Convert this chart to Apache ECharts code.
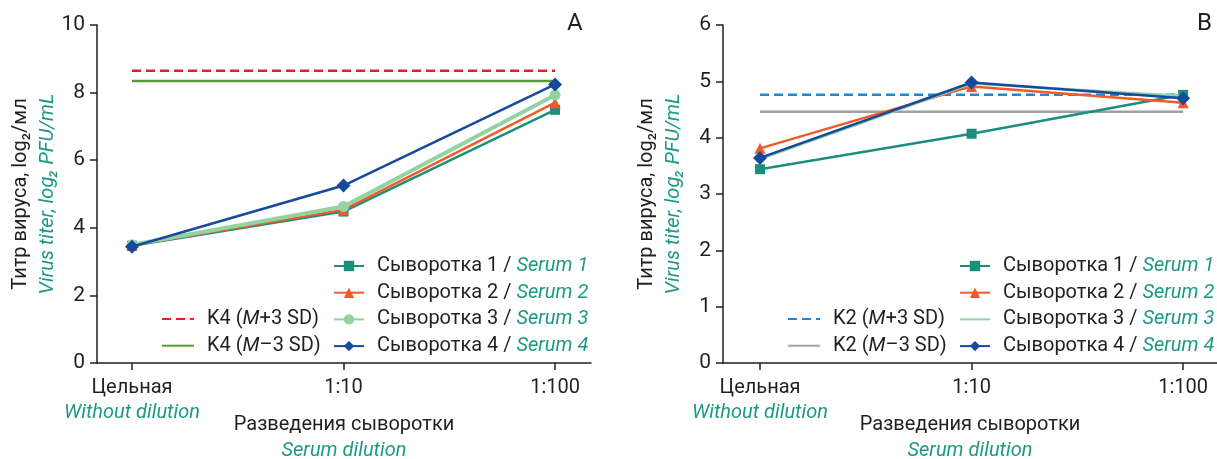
<!DOCTYPE html>
<html>
<head>
<meta charset="utf-8">
<script src="https://cdn.jsdelivr.net/npm/echarts@6/dist/echarts.min.js"></script>
<style>html,body{margin:0;padding:0;background:#fff}#c{width:1217px;height:459px}</style>
</head>
<body>
<div id="c"></div>
<script>
// ---- data ----
const categories = ['Цельная', '1:10', '1:100'];
const categoriesEn = ['Without dilution', '', ''];
const serumNames = ['Сыворотка 1', 'Сыворотка 2', 'Сыворотка 3', 'Сыворотка 4'];
const serumNamesEn = ['Serum 1', 'Serum 2', 'Serum 3', 'Serum 4'];
// Panel A
const s1A = [3.47, 4.48, 7.49];
const s2A = [3.48, 4.53, 7.70];
const s3A = [3.50, 4.63, 7.93];
const s4A = [3.44, 5.25, 8.24];
const k4Upper = 8.65;
const k4Lower = 8.34;
// Panel B
const s1B = [3.44, 4.07, 4.76];
const s2B = [3.81, 4.91, 4.62];
const s3B = [3.62, 4.96, 4.74];
const s4B = [3.64, 4.98, 4.70];
const k2Upper = 4.76;
const k2Lower = 4.46;
const yTicksA = {min: 0, max: 10, interval: 2};
const yTicksB = {min: 0, max: 6, interval: 1};

// ---- styles ----
const FONT = 'Roboto';
const FS = 20;
const DARK = '#231f20';
const TEAL = '#1d9a82';
const C1 = '#1b8f7b', C2 = '#f15a29', C3 = '#93d3a2', C4 = '#174a9c';
const CLEAR = 'rgba(0,0,0,0)';

const chart = echarts.init(document.getElementById('c'));

function toPts(arr) { return arr.map((v, i) => [i, v]); }
function hline(v) { return [[0, v], [2, v]]; }

const richText = {
  a: {fontFamily: FONT, fontSize: FS, color: DARK, lineHeight: 20},
  b: {fontFamily: FONT, fontSize: FS, color: TEAL, fontStyle: 'italic', lineHeight: 20},
  i: {fontFamily: FONT, fontSize: FS, color: DARK, fontStyle: 'italic', lineHeight: 20}
};

function mkSeries(nameIdx, data, xi, opts) {
  return Object.assign({
    type: 'line',
    name: serumNames[nameIdx] + ' / ' + serumNamesEn[nameIdx] + (xi === 1 ? ' ' : ''),
    xAxisIndex: xi, yAxisIndex: xi,
    data: toPts(data),
    z: 3 + nameIdx
  }, opts);
}

function legendFormatter(name) {
  const t = name.trim();
  const parts = t.split(' / ');
  if (parts.length === 2) return '{a|' + parts[0] + ' / }{b|' + parts[1] + '}';
  const m = t.match(/^(K\d) \(M(.)3 SD\)$/);
  if (m) return '{a|' + m[1] + ' (}{i|M}{a|' + m[2] + '3 SD)}';
  return '{a|' + t + '}';
}

function xAxisDef(gi, min, max) {
  return {
    type: 'value', gridIndex: gi, min: min, max: max,
    splitLine: {show: false},
    axisLine: {show: true, onZero: false, lineStyle: {color: DARK, width: 1.5}},
    axisTick: {show: true, length: 7, customValues: [0, 1, 2], lineStyle: {color: DARK, width: 1.5}},
    axisLabel: {
      customValues: [0, 1, 2], margin: 12,
      formatter: function (v) {
        const i = Math.round(v);
        let s = '{a|' + categories[i] + '}';
        if (categoriesEn[i]) s += '\n{b|' + categoriesEn[i] + '}';
        return s;
      },
      rich: {
        a: {fontFamily: FONT, fontSize: FS, color: DARK, lineHeight: 25},
        b: {fontFamily: FONT, fontSize: FS, color: TEAL, fontStyle: 'italic', lineHeight: 25}
      }
    },
    name: '{a|Разведения сыворотки}\n{b|Serum dilution}',
    nameLocation: 'middle', nameGap: 49, nameMoveOverlap: false,
    nameTextStyle: {
      rich: {
        a: {fontFamily: FONT, fontSize: FS, color: DARK, lineHeight: 26},
        b: {fontFamily: FONT, fontSize: FS, color: TEAL, fontStyle: 'italic', lineHeight: 26}
      }
    }
  };
}

function yAxisDef(gi, t) {
  return {
    type: 'value', gridIndex: gi, min: t.min, max: t.max, interval: t.interval,
    splitLine: {show: false},
    axisLine: {show: true, onZero: false, lineStyle: {color: DARK, width: 1.5}},
    axisTick: {show: true, length: 7, lineStyle: {color: DARK, width: 1.5}},
    axisLabel: {margin: 12, fontFamily: FONT, fontSize: 21, color: DARK},
    name: '{a|Титр вируса, log₂/мл}\n{b|Virus titer, log₂ PFU/mL}',
    nameLocation: 'middle', nameGap: 36, nameRotate: 90, nameMoveOverlap: false,
    nameTextStyle: {
      rich: {
        a: {fontFamily: FONT, fontSize: FS, color: DARK, lineHeight: 27},
        b: {fontFamily: FONT, fontSize: FS, color: TEAL, fontStyle: 'italic', lineHeight: 27}
      }
    }
  };
}

const legendCommon = {
  orient: 'vertical', padding: 0, itemGap: 6.7, itemHeight: 13,
  formatter: legendFormatter,
  textStyle: {fontFamily: FONT, fontSize: FS, lineHeight: 20, padding: [0, 0, 0, 8], rich: richText},
  selectedMode: false
};

const kA1 = 'K4 (M+3 SD)', kA2 = 'K4 (M–3 SD)';
const kB1 = 'K2 (M+3 SD)', kB2 = 'K2 (M–3 SD)';

const namesA = [0, 1, 2, 3].map(i => serumNames[i] + ' / ' + serumNamesEn[i]);
const namesB = [0, 1, 2, 3].map(i => serumNames[i] + ' / ' + serumNamesEn[i] + ' ');

function refLine(name, xi, v, color, dashed) {
  return {
    type: 'line', name: name, xAxisIndex: xi, yAxisIndex: xi, data: hline(v),
    symbol: 'circle', showSymbol: false,
    lineStyle: {color: color, width: 2.5, type: dashed ? [9, 5] : 'solid'},
    itemStyle: {color: CLEAR, borderColor: CLEAR},
    z: 1
  };
}

const option = {
  animation: false,
  backgroundColor: '#fff',
  grid: [
    {left: 97, top: 25, width: 494, height: 338, containLabel: false, outerBoundsMode: 'none'},
    {left: 723, top: 25, width: 494, height: 338, containLabel: false, outerBoundsMode: 'none'}
  ],
  xAxis: [xAxisDef(0, -0.1655, 2.170), xAxisDef(1, -0.175, 2.16)],
  yAxis: [yAxisDef(0, yTicksA), yAxisDef(1, yTicksB)],
  legend: [
    Object.assign({}, legendCommon, {left: 333, top: 256, itemWidth: 30, data: namesA}),
    Object.assign({}, legendCommon, {left: 161, top: 309, itemWidth: 32, data: [kA1, kA2]}),
    Object.assign({}, legendCommon, {left: 959, top: 256, itemWidth: 30, data: namesB}),
    Object.assign({}, legendCommon, {left: 787, top: 309, itemWidth: 32, data: [kB1, kB2]})
  ],
  graphic: [
    {type: 'text', left: 567, top: 12, style: {text: 'A', fontFamily: FONT, fontSize: 24, fill: DARK}},
    {type: 'text', left: 1197, top: 12, style: {text: 'B', fontFamily: FONT, fontSize: 24, fill: DARK}}
  ],
  series: [
    refLine(kA1, 0, k4Upper, '#ed1c24', true),
    refLine(kA2, 0, k4Lower, '#5b9a3c', false),
    mkSeries(0, s1A, 0, {symbol: 'rect', symbolSize: 10, lineStyle: {color: C1, width: 2.5}, itemStyle: {color: C1}}),
    mkSeries(1, s2A, 0, {symbol: 'triangle', symbolSize: 11, lineStyle: {color: C2, width: 2.5}, itemStyle: {color: C2}}),
    mkSeries(2, s3A, 0, {symbol: 'circle', symbolSize: 11, lineStyle: {color: C3, width: 4}, itemStyle: {color: C3}}),
    mkSeries(3, s4A, 0, {symbol: 'diamond', symbolSize: 14, lineStyle: {color: C4, width: 2.5}, itemStyle: {color: C4}}),

    refLine(kB1, 1, k2Upper, '#1f88d2', true),
    refLine(kB2, 1, k2Lower, '#a0a0a0', false),
    mkSeries(0, s1B, 1, {symbol: 'rect', symbolSize: 10, lineStyle: {color: C1, width: 2.5}, itemStyle: {color: C1}}),
    mkSeries(1, s2B, 1, {symbol: 'triangle', symbolSize: 11, lineStyle: {color: C2, width: 2.5}, itemStyle: {color: C2}}),
    mkSeries(2, s3B, 1, {symbol: 'circle', showSymbol: false, lineStyle: {color: C3, width: 2.5}, itemStyle: {color: CLEAR, borderColor: CLEAR}}),
    mkSeries(3, s4B, 1, {symbol: 'diamond', symbolSize: 14, lineStyle: {color: C4, width: 2.5}, itemStyle: {color: C4}})
  ]
};
chart.setOption(option);
</script>
</body>
</html>
